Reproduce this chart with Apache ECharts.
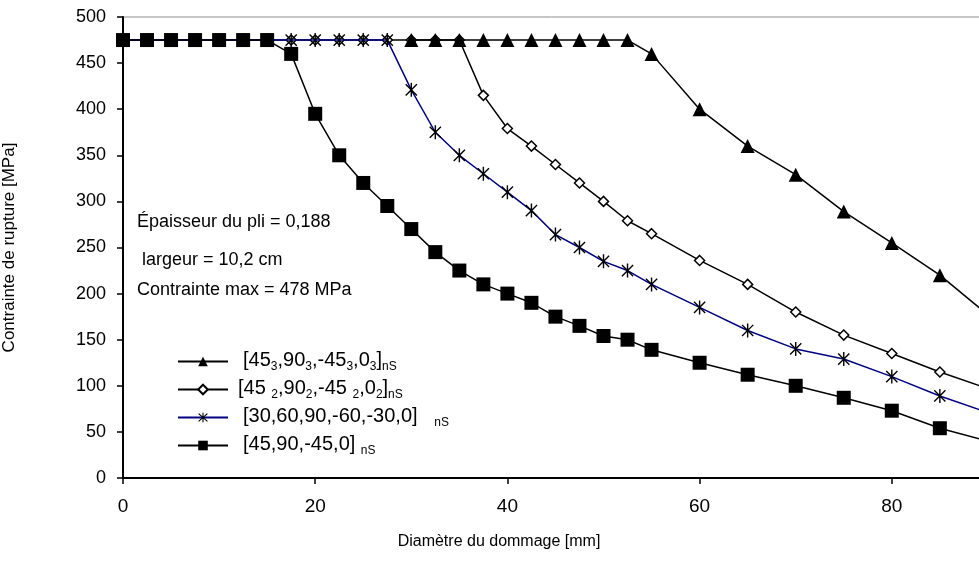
<!DOCTYPE html>
<html>
<head>
<meta charset="utf-8">
<script src="https://cdn.jsdelivr.net/npm/echarts@6/dist/echarts.min.js"></script>
<style>html,body{margin:0;padding:0;background:#fff}#c{width:979px;height:580px}</style>
</head>
<body>
<div id="c"></div>
<script>
// Diameter of damage [mm]
const xValues = [0,2.5,5,7.5,10,12.5,15,17.5,20,22.5,25,27.5,30,32.5,35,37.5,40,42.5,45,47.5,50,52.5,55,60,65,70,75,80,85,90];
const xTriangles = [30,32.5,35,37.5,40,42.5,45,47.5,50,52.5,55,60,65,70,75,80,85,90];
// [45_3,90_3,-45_3,0_3]nS  (triangles)
const triValues = [475,475,475,475,475,475,475,475,475,475,460,400,360,329,289,255,220,177];
// [45_2,90_2,-45_2,0_2]nS  (diamonds)
const diaValues = [475,475,475,475,475,475,475,475,475,475,475,475,475,475,475,415,379,360,340,320,300,279,265,236,210,180,155,135,115,97];
// [30,60,90,-60,-30,0]nS  (stars)
const starValues = [475,475,475,475,475,475,475,475,475,475,475,475,421,375,350,330,310,290,264,250,235,225,210,185,160,140,129,110,89,71];
// [45,90,-45,0]nS  (squares)
const sqValues = [475,475,475,475,475,475,475,460,395,350,320,295,270,245,225,210,200,190,175,165,154,150,139,125,112,100,87,73,54,40];

const seriesNames = ['[45_3,90_3,-45_3,0_3]nS','[45_2,90_2,-45_2,0_2]nS','[30,60,90,-60,-30,0]nS','[45,90,-45,0]nS'];
const legendRich = {
  '[45_3,90_3,-45_3,0_3]nS': '{g|}{t|[45}{s|3}{t|,90}{s|3}{t|,-45}{s|3}{t|,0}{s|3}{t|]}{s|nS}',
  '[45_2,90_2,-45_2,0_2]nS': '{h|}{t|[45 }{s|2}{t|,90}{s|2}{t|,-45 }{s|2}{t|,0}{s|2}{t|]}{s|nS}',
  '[30,60,90,-60,-30,0]nS': '{g|}{t|[30,60,90,-60,-30,0]   }{s|nS}',
  '[45,90,-45,0]nS': '{g|}{t|[45,90,-45,0] }{s|nS}'
};
const notes = ['Épaisseur du pli = 0,188', ' largeur = 10,2 cm', 'Contrainte max = 478 MPa'];
const xTitle = 'Diamètre du dommage [mm]';
const yTitle = 'Contrainte de rupture [MPa]';

const FONT = '"Liberation Sans", Arial, sans-serif';
const pair = (xs, ys) => xs.map((x, i) => [x, ys[i]]);
const starPath = 'path://M-1,-10L1,-10L1,10L-1,10Z M-7.3,-8.7L8.7,7.3L7.3,8.7L-8.7,-7.3Z M7.3,-8.7L8.7,-7.3L-7.3,8.7L-8.7,7.3Z';

const chart = echarts.init(document.getElementById('c'), null, {renderer: 'canvas'});
chart.setOption({
  animation: false,
  backgroundColor: '#fff',
  grid: {left: 123, top: 17, width: 961, height: 461, outerBoundsMode: 'none', containLabel: false,
         show: true, borderColor: '#8c8c8c', borderWidth: 1, backgroundColor: 'transparent'},
  xAxis: {
    type: 'value', min: 0, max: 100, interval: 20,
    axisLine: {lineStyle: {color: '#000', width: 2}},
    axisTick: {show: true, length: 6, lineStyle: {color: '#000', width: 1.5}},
    axisLabel: {fontFamily: FONT, fontSize: 19, color: '#000', margin: 19},
    splitLine: {show: false}
  },
  yAxis: {
    type: 'value', min: 0, max: 500, interval: 50,
    name: yTitle, nameLocation: 'middle', nameGap: 105,
    nameTextStyle: {fontFamily: FONT, fontSize: 17, color: '#000'},
    axisLine: {show: true, lineStyle: {color: '#000', width: 2}},
    axisTick: {show: true, length: 6, lineStyle: {color: '#000', width: 1.5}},
    axisLabel: {fontFamily: FONT, fontSize: 18, color: '#000', margin: 17},
    splitLine: {show: false}
  },
  legend: {
    orient: 'vertical', left: 177, top: 349, padding: 0,
    itemWidth: 50, itemHeight: 12, itemGap: 4,
    data: [seriesNames[0], seriesNames[1], seriesNames[2], seriesNames[3]],
    formatter: (name) => legendRich[name],
    textStyle: {
      fontFamily: FONT, color: '#000',
      rich: {
        t: {fontFamily: FONT, fontSize: 20, lineHeight: 23, verticalAlign: 'top', color: '#000'},
        s: {fontFamily: FONT, fontSize: 12, lineHeight: 14, verticalAlign: 'bottom', padding: [12, 0, 0, 0], color: '#000'},
        g: {width: 10},
        h: {width: 5}
      }
    }
  },
  graphic: notes.map((t, i) => ({
    type: 'text', left: [137, 137, 137][i], top: [213, 251, 281][i],
    style: {text: t, fontFamily: FONT, fontSize: 18, fill: '#000'}
  })).concat([{
    type: 'text', x: 499, y: 542,
    style: {text: xTitle, fontFamily: FONT, fontSize: 16, fill: '#000', align: 'center', verticalAlign: 'middle'}
  }]),
  series: [
    {
      name: seriesNames[1], type: 'line', data: pair(xValues, diaValues), z: 2,
      symbol: 'diamond', symbolSize: 10,
      lineStyle: {color: '#000', width: 1.5},
      itemStyle: {color: '#fff', borderColor: '#000', borderWidth: 1.5}
    },
    {
      name: seriesNames[0], type: 'line', data: pair(xTriangles, triValues), z: 3,
      symbol: 'triangle', symbolSize: 14,
      lineStyle: {color: '#000', width: 1.5},
      itemStyle: {color: '#000'}
    },
    {
      name: seriesNames[2], type: 'line', data: pair(xValues, starValues), z: 4,
      symbol: starPath, symbolSize: 14, symbolKeepAspect: true,
      lineStyle: {color: '#000080', width: 1.5},
      itemStyle: {color: '#000'}
    },
    {
      name: seriesNames[3], type: 'line', data: pair(xValues, sqValues), z: 5,
      symbol: 'rect', symbolSize: 14,
      lineStyle: {color: '#000', width: 1.5},
      itemStyle: {color: '#000'}
    }
  ]
});
</script>
</body>
</html>
